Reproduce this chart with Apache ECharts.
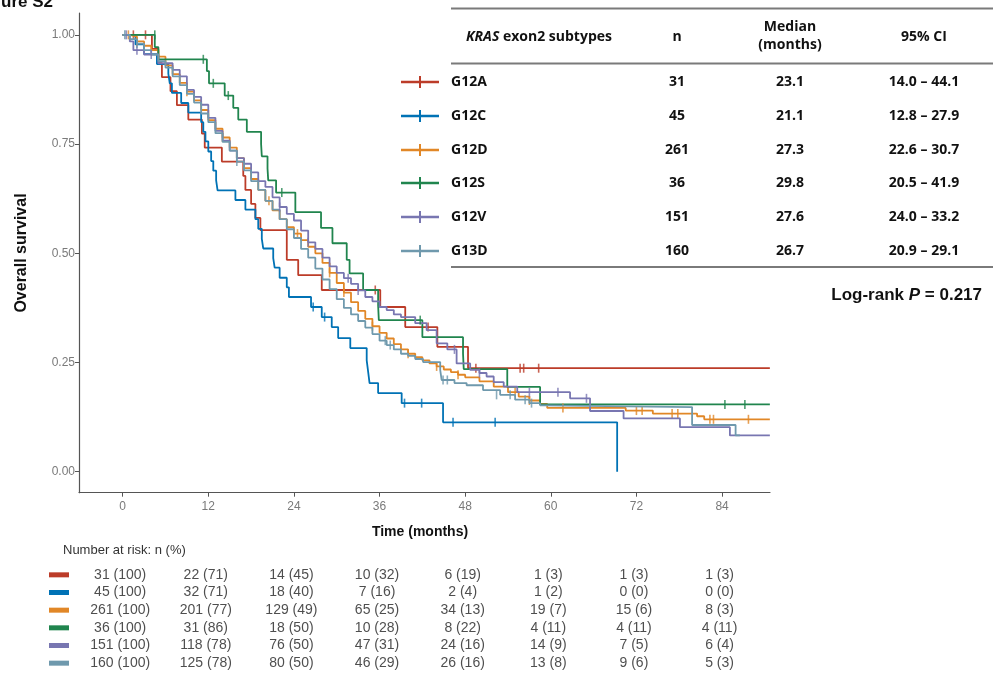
<!DOCTYPE html>
<html><head><meta charset="utf-8">
<script src="https://cdn.jsdelivr.net/npm/echarts@6/dist/echarts.min.js"></script>
<style>html,body{margin:0;padding:0;background:#fff}#c{width:993px;height:675px}</style>
</head><body><div id="c"></div>
<script>
// ---------- data ----------
const groups = ['G12A', 'G12C', 'G12D', 'G12S', 'G12V', 'G13D'];
const colors = ['#BC3C29', '#0072B5', '#E18727', '#20854E', '#7876B1', '#6F99AD'];
const nTotal = ['31', '45', '261', '36', '151', '160'];
const medians = ['23.1', '21.1', '27.3', '29.8', '27.6', '26.7'];
const ci95 = ['14.0 – 44.1', '12.8 – 27.9', '22.6 – 30.7', '20.5 – 41.9', '24.0 – 33.2', '20.9 – 29.1'];
const xTicks = [0, 12, 24, 36, 48, 60, 72, 84];
const yTicks = [0, 0.25, 0.5, 0.75, 1];

// Kaplan-Meier step knots [month, survival]
const kmG12A = [[0,1],[4.1,0.968],[5.0,0.935],[5.5,0.903],[6.7,0.871],[7.6,0.839],[9.2,0.806],[11.1,0.774],[11.5,0.742],[13.9,0.710],[16.9,0.677],[17.2,0.645],[18.0,0.613],[18.6,0.581],[19.3,0.553],[23.0,0.485],[24.6,0.450],[27.9,0.416],[36.1,0.377],[39.6,0.331],[44.1,0.286],[48.4,0.237],[90.7,0.237]];
const kmG12C = [[0,1],[1.8,0.978],[3.0,0.956],[4.8,0.933],[6.4,0.911],[6.6,0.889],[6.9,0.867],[8.2,0.844],[9.2,0.822],[11.0,0.800],[11.3,0.778],[11.6,0.756],[12.0,0.733],[12.4,0.711],[12.7,0.689],[13.1,0.667],[13.3,0.644],[15.8,0.622],[17.2,0.600],[18.6,0.578],[19.0,0.556],[19.5,0.533],[19.7,0.511],[21.1,0.489],[21.3,0.467],[22.0,0.444],[23.0,0.422],[23.3,0.400],[26.4,0.377],[27.9,0.354],[29.3,0.331],[30.2,0.306],[31.9,0.283],[34.2,0.255],[34.4,0.229],[34.6,0.203],[35.8,0.180],[39.1,0.157],[44.9,0.113],[69.3,0.113],[69.3,0]];
const kmG12D = [[0,1],[1,0.996],[2,0.985],[3,0.975],[4,0.965],[5,0.950],[6,0.930],[7,0.910],[8,0.890],[9,0.870],[10,0.850],[11,0.828],[12,0.805],[13,0.785],[14,0.765],[15,0.742],[16,0.718],[17,0.695],[18,0.670],[19,0.645],[20,0.620],[21,0.598],[22,0.578],[23,0.560],[24,0.545],[25,0.530],[26,0.515],[27,0.500],[28,0.478],[29,0.455],[30,0.432],[31,0.410],[32,0.388],[33,0.368],[34,0.350],[35,0.333],[36,0.318],[37,0.305],[38,0.292],[39,0.280],[40,0.270],[41,0.262],[42,0.255],[43,0.248],[44,0.241],[45,0.234],[46,0.228],[47,0.222],[48,0.216],[50,0.207],[52,0.195],[54,0.182],[55.5,0.172],[57,0.163],[58.5,0.155],[59.5,0.146],[70.5,0.140],[74.3,0.133],[80.5,0.127],[81.5,0.120],[90.7,0.120]];
const kmG12S = [[0,1],[4.5,0.972],[5.0,0.944],[11.8,0.917],[12.1,0.889],[14.3,0.861],[15.5,0.833],[16.2,0.806],[17.4,0.778],[19.4,0.750],[19.5,0.722],[20.3,0.694],[20.4,0.667],[21.5,0.639],[24.2,0.594],[27.8,0.558],[29.4,0.523],[31.4,0.485],[31.8,0.454],[33.7,0.416],[35.8,0.381],[35.9,0.347],[42.0,0.308],[47.7,0.270],[47.8,0.235],[53.9,0.194],[58.5,0.154],[90.7,0.154]];
const kmG12V = [[0,1],[1,0.985],[1.5,0.965],[3,0.955],[5,0.935],[7,0.920],[8,0.905],[9,0.874],[10,0.858],[11,0.840],[12,0.810],[13,0.780],[14,0.758],[15,0.735],[16,0.718],[17,0.705],[18,0.685],[19,0.665],[20,0.652],[21,0.628],[22,0.606],[23,0.590],[24,0.575],[25,0.552],[26,0.525],[27,0.510],[28,0.490],[29,0.470],[30,0.455],[31,0.443],[32,0.430],[33,0.415],[34,0.400],[35,0.390],[36,0.377],[37,0.370],[38,0.360],[39,0.354],[41,0.340],[42.6,0.324],[44,0.294],[45.5,0.280],[46.8,0.248],[48.7,0.233],[50,0.226],[51,0.218],[52,0.205],[53.4,0.195],[55.3,0.182],[62.7,0.168],[65.5,0.139],[70.2,0.122],[78.1,0.102],[85.1,0.083],[90.7,0.083]];
const kmG13D = [[0,1],[1,0.990],[2,0.980],[3,0.965],[4,0.955],[5,0.940],[6,0.925],[7,0.905],[8,0.885],[9,0.865],[10,0.845],[11,0.820],[12,0.800],[13,0.775],[14,0.755],[15,0.735],[16,0.710],[17,0.690],[18,0.665],[19,0.645],[20,0.620],[21,0.600],[22,0.578],[23,0.555],[24,0.535],[25,0.510],[26,0.490],[27,0.465],[28,0.440],[29,0.418],[30,0.395],[31,0.375],[32,0.360],[33,0.345],[34,0.330],[35,0.315],[36,0.300],[37,0.290],[38,0.280],[39,0.270],[40,0.265],[41,0.258],[42.1,0.251],[44.5,0.233],[44.7,0.210],[46.5,0.203],[48.2,0.198],[50.5,0.187],[52.9,0.176],[55,0.165],[57,0.157],[58.5,0.152],[59,0.148],[79.8,0.107],[85.9,0.083],[86.5,0.083]];

// censoring marks [month, survival]
const cenG12A = [[1.5,1],[3.2,1],[35.4,0.416],[42.8,0.331],[49.5,0.237],[55.7,0.237],[56.2,0.237],[58.3,0.237]];
const cenG12C = [[26.7,0.377],[28.3,0.354],[39.5,0.157],[41.9,0.157],[46.3,0.113],[52.2,0.113]];
const cenG12D = [[0.8,1],[2,0.985],[9,0.870],[14,0.765],[20.5,0.620],[24.5,0.545],[29,0.455],[31,0.410],[35,0.333],[40,0.270],[44,0.241],[47,0.222],[55,0.182],[57,0.163],[61.7,0.146],[72,0.140],[72.8,0.140],[77,0.133],[77.8,0.133],[82.3,0.120],[82.8,0.120],[87.7,0.120]];
const cenG12S = [[4.5,1],[11.3,0.944],[12.7,0.889],[14.8,0.861],[22.3,0.639],[41.7,0.347],[84.4,0.154],[87.2,0.154]];
const cenG12V = [[0.5,1],[2,0.965],[4,0.955],[22,0.606],[26,0.525],[31.6,0.443],[33,0.415],[46.5,0.280],[50,0.226],[57,0.182],[61,0.182],[65,0.168]];
const cenG13D = [[0.3,1],[2,0.980],[16,0.710],[36.8,0.300],[37.5,0.290],[44.9,0.210],[45.5,0.210],[52.4,0.176],[54.3,0.176],[56.4,0.165],[57.3,0.157]];

const riskG12A = ['31 (100)', '22 (71)', '14 (45)', '10 (32)', '6 (19)', '1 (3)', '1 (3)', '1 (3)'];
const riskG12C = ['45 (100)', '32 (71)', '18 (40)', '7 (16)', '2 (4)', '1 (2)', '0 (0)', '0 (0)'];
const riskG12D = ['261 (100)', '201 (77)', '129 (49)', '65 (25)', '34 (13)', '19 (7)', '15 (6)', '8 (3)'];
const riskG12S = ['36 (100)', '31 (86)', '18 (50)', '10 (28)', '8 (22)', '4 (11)', '4 (11)', '4 (11)'];
const riskG12V = ['151 (100)', '118 (78)', '76 (50)', '47 (31)', '24 (16)', '14 (9)', '7 (5)', '6 (4)'];
const riskG13D = ['160 (100)', '125 (78)', '80 (50)', '46 (29)', '26 (16)', '13 (8)', '9 (6)', '5 (3)'];

// ---------- build ----------
const kmAll = [kmG12A, kmG12C, kmG12D, kmG12S, kmG12V, kmG13D];
const cenAll = [cenG12A, cenG12C, cenG12D, cenG12S, cenG12V, cenG13D];
const riskAll = [riskG12A, riskG12C, riskG12D, riskG12S, riskG12V, riskG13D];

const SANS = 'Liberation Sans, Arial, sans-serif';
const TABF = 'Open Sans, Noto Sans, sans-serif';

const series = [];
groups.forEach((g, i) => {
  series.push({
    name: g, type: 'line', step: 'end', xAxisIndex: 0, yAxisIndex: 0,
    data: kmAll[i], showSymbol: false, symbol: 'none',
    lineStyle: { color: colors[i], width: 1.8 }, z: 2 + i, animation: false
  });
  series.push({
    name: g + ' censor', type: 'scatter', xAxisIndex: 0, yAxisIndex: 0,
    data: cenAll[i], symbol: 'rect', symbolSize: [1.6, 9],
    itemStyle: { color: colors[i] }, z: 3 + i, animation: false
  });
  series.push({
    name: g + ' risk', type: 'scatter', xAxisIndex: 1, yAxisIndex: 1,
    data: xTicks.map((t, k) => ({ value: [t, g], txt: riskAll[i][k] })),
    symbolSize: 1, itemStyle: { color: 'rgba(0,0,0,0)' },
    label: { show: true, position: 'inside', offset: [-2.5, 0], color: '#222',
      fontFamily: SANS, fontSize: 14, formatter: p => p.data.txt },
    animation: false
  });
});

const rich = {};
groups.forEach((g, i) => { rich['s' + i] = { backgroundColor: colors[i], width: 20, height: 5 }; });

// table graphics
const graphics = [];
const rowY = [82, 116, 150, 183, 217, 251];
graphics.push({ type: 'text', x: 53, y: 2, style: { text: 'Figure S2', font: 'bold 17px ' + SANS, fill: '#111', align: 'right', verticalAlign: 'middle' } });
graphics.push({ type: 'text', x: 22, y: 253, rotation: Math.PI / 2, style: { text: 'Overall survival', font: 'bold 16px ' + SANS, fill: '#111', align: 'center', verticalAlign: 'middle' } });
graphics.push({ type: 'text', x: 420, y: 532, style: { text: 'Time (months)', font: 'bold 14px ' + SANS, fill: '#111', align: 'center', verticalAlign: 'middle' } });
graphics.push({ type: 'text', x: 63, y: 550, style: { text: 'Number at risk: n (%)', font: '13px ' + SANS, fill: '#333', align: 'left', verticalAlign: 'middle' } });
[8.5, 63.5, 267].forEach(y => graphics.push({ type: 'line', shape: { x1: 451, y1: y, x2: 993, y2: y }, style: { stroke: '#7a7a7a', lineWidth: 1.8 } }));
graphics.push({ type: 'text', x: 539, y: 37, style: { text: '{i|KRAS} exon2 subtypes', rich: { i: { fontStyle: 'italic', fontWeight: 'bold', fontSize: 14, fontFamily: TABF, fill: '#111' } }, font: 'bold 14px ' + TABF, fill: '#111', align: 'center', verticalAlign: 'middle' } });
graphics.push({ type: 'text', x: 677, y: 37, style: { text: 'n', font: 'bold 14px ' + TABF, fill: '#111', align: 'center', verticalAlign: 'middle' } });
graphics.push({ type: 'text', x: 790, y: 27, style: { text: 'Median', font: 'bold 14px ' + TABF, fill: '#111', align: 'center', verticalAlign: 'middle' } });
graphics.push({ type: 'text', x: 790, y: 45, style: { text: '(months)', font: 'bold 14px ' + TABF, fill: '#111', align: 'center', verticalAlign: 'middle' } });
graphics.push({ type: 'text', x: 924, y: 37, style: { text: '95% CI', font: 'bold 14px ' + TABF, fill: '#111', align: 'center', verticalAlign: 'middle' } });
groups.forEach((g, i) => {
  const y = rowY[i];
  graphics.push({ type: 'line', shape: { x1: 401, y1: y, x2: 439, y2: y }, style: { stroke: colors[i], lineWidth: 2.5 } });
  graphics.push({ type: 'line', shape: { x1: 420, y1: y - 6, x2: 420, y2: y + 6 }, style: { stroke: colors[i], lineWidth: 2 } });
  graphics.push({ type: 'text', x: 451, y: y, style: { text: g, font: 'bold 14px ' + TABF, fill: '#111', align: 'left', verticalAlign: 'middle' } });
  graphics.push({ type: 'text', x: 677, y: y, style: { text: nTotal[i], font: 'bold 14px ' + TABF, fill: '#111', align: 'center', verticalAlign: 'middle' } });
  graphics.push({ type: 'text', x: 790, y: y, style: { text: medians[i], font: 'bold 14px ' + TABF, fill: '#111', align: 'center', verticalAlign: 'middle' } });
  graphics.push({ type: 'text', x: 924, y: y, style: { text: ci95[i], font: 'bold 14px ' + TABF, fill: '#111', align: 'center', verticalAlign: 'middle' } });
});
graphics.push({ type: 'text', x: 982, y: 295, style: { text: 'Log-rank {i|P} = 0.217', rich: { i: { fontStyle: 'italic', fontWeight: 'bold', fontSize: 17, fontFamily: SANS, fill: '#111' } }, font: 'bold 17px ' + SANS, fill: '#111', align: 'right', verticalAlign: 'middle' } });

const chart = echarts.init(document.getElementById('c'), null, { renderer: 'canvas' });
chart.setOption({
  animation: false,
  backgroundColor: '#fff',
  grid: [
    { left: 79, top: 13, width: 691, height: 479.7 },
    { left: 79, top: 566, width: 691, height: 106 }
  ],
  xAxis: [
    { type: 'value', gridIndex: 0, min: -6.12, max: 90.72,
      axisLine: { show: true, onZero: false, lineStyle: { color: '#555', width: 1.2 } },
      axisTick: { show: true, customValues: xTicks, length: 4, lineStyle: { color: '#555' } },
      axisLabel: { customValues: xTicks, color: '#7a7a7a', fontSize: 12, fontFamily: SANS, margin: 8 },
      splitLine: { show: false } },
    { type: 'value', gridIndex: 1, min: -6.12, max: 90.72, show: false }
  ],
  yAxis: [
    { type: 'value', gridIndex: 0, min: -0.048, max: 1.05,
      axisLine: { show: true, onZero: false, lineStyle: { color: '#555', width: 1.2 } },
      axisTick: { show: true, customValues: yTicks, length: 4, lineStyle: { color: '#555' } },
      axisLabel: { customValues: yTicks, color: '#7a7a7a', fontSize: 12, fontFamily: SANS, margin: 4, formatter: v => v.toFixed(2) },
      splitLine: { show: false } },
    { type: 'category', gridIndex: 1, data: groups, inverse: true,
      axisLine: { show: false }, axisTick: { show: false }, splitLine: { show: false },
      axisLabel: { margin: 10, formatter: (v, idx) => '{s' + idx + '|}', rich: rich } }
  ],
  series: series,
  graphic: graphics
});
</script>
</body></html>
